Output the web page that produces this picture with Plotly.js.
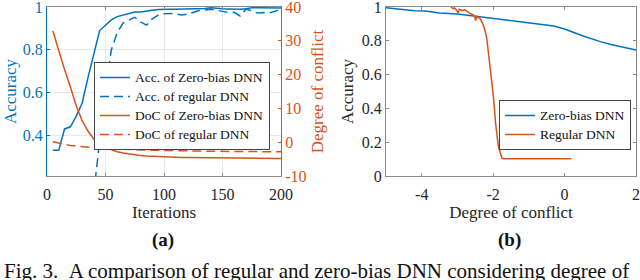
<!DOCTYPE html>
<html>
<head>
<meta charset="utf-8">
<script src="https://cdn.plot.ly/plotly-3.0.1.min.js"></script>
<style>
html,body{margin:0;padding:0;background:#fff;}
#chart{width:640px;height:280px;}
</style>
</head>
<body>
<div id="chart"></div>
<script>
// ---- (a) training curves vs. iterations ----
const iterations = [5,10,15,20,25,30,35,40,45,50,55,60,65,70,75,80,85,90,95,100,
  105,110,115,120,125,130,135,140,145,150,155,160,165,170,175,180,185,190,195,200];
const accZeroBias = [0.33,0.33,0.43,0.44,0.49,0.55,0.67,0.78,0.89,0.915,0.94,0.955,0.963,0.97,0.977,0.977,0.982,0.985,0.988,0.99,
  0.99,0.989,0.99,0.99,0.991,0.99,0.993,0.996,0.993,0.992,0.991,0.99,0.99,0.992,0.996,0.996,0.995,0.995,0.995,0.995];
const accRegular = [0.1,0.1,0.1,0.1,0.1,0.1,0.1,0.13,0.39,0.62,0.8,0.88,0.925,0.94,0.952,0.93,0.915,0.945,0.962,0.968,
  0.97,0.968,0.963,0.966,0.975,0.984,0.986,0.99,0.985,0.978,0.974,0.975,0.958,0.99,0.98,0.972,0.974,0.972,0.98,0.99];
const docZeroBias = [32.9,27.0,21.5,16.3,10.8,6.4,3.3,0.9,-0.6,-1.6,-2.3,-2.8,-3.2,-3.5,-3.75,-3.95,-4.1,-4.2,-4.3,-4.35,
  -4.4,-4.45,-4.5,-4.5,-4.55,-4.55,-4.6,-4.6,-4.62,-4.65,-4.67,-4.7,-4.7,-4.72,-4.74,-4.75,-4.76,-4.77,-4.78,-4.8];
const docRegular = [0.1,-0.3,-0.65,-0.95,-1.15,-1.35,-1.5,-1.65,-1.8,-1.9,-2.0,-2.1,-2.15,-2.2,-2.25,-2.3,-2.35,-2.4,-2.42,-2.45,
  -2.48,-2.52,-2.55,-2.58,-2.6,-2.62,-2.65,-2.67,-2.69,-2.7,-2.72,-2.74,-2.75,-2.77,-2.78,-2.8,-2.81,-2.82,-2.84,-2.85];

// ---- (b) accuracy vs. degree of conflict ----
const conflictZeroBias = [-5,-4.6,-4.2,-3.9,-3.5,-3.0,-2.5,-2.0,-1.5,-1.0,-0.5,-0.3,0.0,0.5,1.0,1.3,2.0];
const accVsConflictZeroBias = [0.995,0.985,0.978,0.977,0.965,0.958,0.945,0.93,0.917,0.905,0.895,0.888,0.87,0.83,0.795,0.778,0.745];
const conflictRegular = [-3.18,-3.12,-3.08,-3.03,-2.98,-2.95,-2.9,-2.85,-2.8,-2.76,-2.7,-2.65,-2.6,-2.55,-2.52,-2.49,-2.46,-2.42,-2.36,-2.3,-2.25,-2.18,-2.09,-1.99,-1.93,-1.85,-1.75,-1.69,-1.0,0.19];
const accVsConflictRegular = [1.0,0.99,0.994,0.983,0.965,0.986,0.982,0.978,0.984,0.977,0.968,0.962,0.957,0.952,0.948,0.92,0.945,0.937,0.93,0.905,0.877,0.818,0.66,0.465,0.31,0.17,0.105,0.102,0.102,0.102];

// tick labels
const iterTicks = [0,50,100,150,200];
const accTicksA = [0.4,0.6,0.8,1];
const accTickTextA = ['0.4','0.6','0.8','1'];
const docTicks = [-10,0,10,20,30,40];
const docTickText = ['-10','0','10','20','30','40'];
const conflictTicks = [-4,-2,0,2];
const conflictTickText = ['-4','-2','0','2'];
const accTicksB = [0,0.2,0.4,0.6,0.8,1];
const accTickTextB = ['0','0.2','0.4','0.6','0.8','1'];

// legend labels
const seriesNamesA = ['Acc. of Zero-bias DNN','Acc. of regular DNN','DoC of Zero-bias DNN','DoC of regular DNN'];
const seriesNamesB = ['Zero-bias DNN','Regular DNN'];

const BLUE = '#0072BD', ORANGE = '#D95319', INK = '#262626', AX = '#8a8a8a';
const SERIF = 'Liberation Serif, Times New Roman, serif';
const lg = s => '<span style="font-size:13.5px">' + s + '</span>';

const traces = [
  {x: iterations, y: accZeroBias, name: lg(seriesNamesA[0]), mode: 'lines',
   line: {color: BLUE, width: 1.5}, xaxis: 'x', yaxis: 'y', legend: 'legend'},
  {x: iterations, y: accRegular, name: lg(seriesNamesA[1]), mode: 'lines',
   line: {color: BLUE, width: 1.5, dash: '9px,5px'}, xaxis: 'x', yaxis: 'y', legend: 'legend'},
  {x: iterations, y: docZeroBias, name: lg(seriesNamesA[2]), mode: 'lines',
   line: {color: ORANGE, width: 1.5}, xaxis: 'x', yaxis: 'y2', legend: 'legend'},
  {x: iterations, y: docRegular, name: lg(seriesNamesA[3]), mode: 'lines',
   line: {color: ORANGE, width: 1.5, dash: '9px,5px'}, xaxis: 'x', yaxis: 'y2', legend: 'legend'},
  {x: conflictZeroBias, y: accVsConflictZeroBias, name: lg(seriesNamesB[0]), mode: 'lines',
   line: {color: BLUE, width: 1.5}, xaxis: 'x2', yaxis: 'y3', legend: 'legend2'},
  {x: conflictRegular, y: accVsConflictRegular, name: lg(seriesNamesB[1]), mode: 'lines',
   line: {color: ORANGE, width: 1.5}, xaxis: 'x2', yaxis: 'y3', legend: 'legend2'}
];

const W = 640, H = 280, ML = 47, MR = 4, MT = 7, MB = 104;
const PW = W - ML - MR, PH = H - MT - MB;
const px2x = p => (p - ML) / PW;
const px2y = p => 1 - (p - MT) / PH;

const tickFont = (c) => ({family: SERIF, size: 16, color: c});
const titleFont = (c) => ({family: SERIF, size: 17, color: c});

const layout = {
  width: W, height: H,
  margin: {l: ML, r: MR, t: MT, b: MB},
  paper_bgcolor: '#fff', plot_bgcolor: '#fff',
  font: {family: SERIF, color: INK},
  showlegend: true,
  xaxis: {
    domain: [0, px2x(281)], anchor: 'y', range: [0, 200],
    tickmode: 'array', tickvals: iterTicks, ticktext: iterTicks.map(String),
    ticks: 'inside', ticklen: 3, tickcolor: AX, ticklabelstandoff: 4, ticklabeloverflow: 'allow',
    showline: true, linecolor: AX, linewidth: 1, mirror: 'ticks',
    showgrid: true, gridcolor: '#e8e8e8', zeroline: false,
    tickfont: tickFont(INK),
    title: {text: 'Iterations', font: titleFont(INK), standoff: 0}
  },
  yaxis: {
    anchor: 'x', range: [0.21, 1],
    tickmode: 'array', tickvals: accTicksA, ticktext: accTickTextA,
    ticks: 'inside', ticklen: 3, tickcolor: BLUE, ticklabeloverflow: 'allow',
    showline: true, linecolor: BLUE, linewidth: 1,
    showgrid: true, gridcolor: '#e8e8e8', zeroline: false,
    tickfont: tickFont(BLUE),
    title: {text: 'Accuracy', font: titleFont(BLUE), standoff: 1}
  },
  yaxis2: {
    anchor: 'x', overlaying: 'y', side: 'right', range: [-10, 40],
    tickmode: 'array', tickvals: docTicks, ticktext: docTickText,
    ticks: 'inside', ticklen: 3, tickcolor: ORANGE, ticklabeloverflow: 'allow',
    showline: true, linecolor: ORANGE, linewidth: 1,
    showgrid: false, zeroline: false,
    tickfont: tickFont(ORANGE),
    title: {text: 'Degree of conflict', font: titleFont(ORANGE), standoff: 5}
  },
  xaxis2: {
    domain: [px2x(386), 1], anchor: 'y3', range: [-5, 2],
    tickmode: 'array', tickvals: conflictTicks, ticktext: conflictTickText,
    ticks: 'inside', ticklen: 3, tickcolor: AX, ticklabelstandoff: 4, ticklabeloverflow: 'allow',
    showline: true, linecolor: AX, linewidth: 1, mirror: 'ticks',
    showgrid: false, zeroline: false,
    tickfont: tickFont(INK),
    title: {text: 'Degree of conflict', font: titleFont(INK), standoff: 0}
  },
  yaxis3: {
    anchor: 'x2', range: [0, 1],
    tickmode: 'array', tickvals: accTicksB, ticktext: accTickTextB,
    ticks: 'inside', ticklen: 3, tickcolor: AX, ticklabeloverflow: 'allow',
    showline: true, linecolor: AX, linewidth: 1, mirror: 'ticks',
    showgrid: false, zeroline: false,
    tickfont: tickFont(INK),
    title: {text: 'Accuracy', font: titleFont(INK), standoff: 3}
  },
  legend: {
    x: px2x(94), y: px2y(62), xanchor: 'left', yanchor: 'top',
    bgcolor: '#fff', bordercolor: '#444', borderwidth: 1,
    font: {family: SERIF, size: 11, color: '#111'},
    tracegroupgap: 0
  },
  legend2: {
    x: px2x(499), y: px2y(100), xanchor: 'left', yanchor: 'top',
    bgcolor: '#fff', bordercolor: '#444', borderwidth: 1,
    font: {family: SERIF, size: 11, color: '#111'},
    tracegroupgap: 0
  },
  annotations: [
    {text: '<b>(a)</b>', xref: 'paper', yref: 'paper', x: px2x(163), y: px2y(240),
     xanchor: 'center', yanchor: 'middle', showarrow: false,
     font: {family: SERIF, size: 19, color: '#111'}},
    {text: '<b>(b)</b>', xref: 'paper', yref: 'paper', x: px2x(509), y: px2y(240),
     xanchor: 'center', yanchor: 'middle', showarrow: false,
     font: {family: SERIF, size: 19, color: '#111'}},
    {text: 'Fig. 3.\u00a0\u00a0A comparison of regular and zero-bias DNN considering degree of',
     xref: 'paper', yref: 'paper', x: px2x(2), y: px2y(271),
     xanchor: 'left', yanchor: 'middle', showarrow: false,
     font: {family: SERIF, size: 21, color: '#111'}}
  ]
};

Plotly.newPlot('chart', traces, layout, {displayModeBar: false, staticPlot: true});
</script>
</body>
</html>
